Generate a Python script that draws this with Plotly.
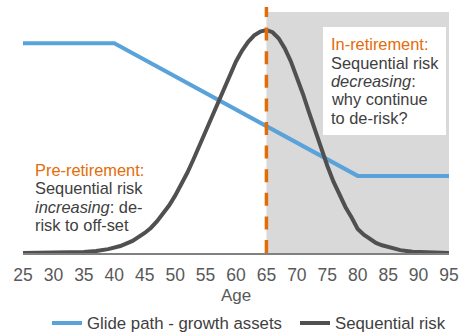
import plotly.graph_objects as go

# Glide path: share of growth assets by age
glide_age = [25, 40, 80, 95]
glide_share = [0.87, 0.87, 0.32, 0.32]

# Sequential risk around the retirement date
risk_age = [25, 30, 35, 37, 39, 41, 43, 45, 46, 47, 48, 49, 50, 51, 52, 53, 54,
            55, 56, 57, 58, 59, 60, 61, 62, 63, 64, 65, 66, 67, 68, 69, 70, 71,
            72, 73, 74, 75, 76, 77, 78, 79, 80, 81, 82, 83, 84, 85, 87, 89, 91,
            93, 95]
risk_level = [0.000, 0.001, 0.004, 0.008, 0.016, 0.029, 0.050, 0.083, 0.104,
              0.131, 0.161, 0.197, 0.238, 0.283, 0.333, 0.388, 0.446, 0.506,
              0.567, 0.629, 0.688, 0.744, 0.795, 0.840, 0.876, 0.903, 0.919,
              0.925, 0.916, 0.891, 0.850, 0.796, 0.732, 0.660, 0.584, 0.508,
              0.433, 0.362, 0.297, 0.240, 0.190, 0.147, 0.100, 0.076, 0.057,
              0.042, 0.032, 0.025, 0.012, 0.005, 0.002, 0.001, 0.000]

x_ticks = list(range(25, 96, 5))
retirement_age = 65

BLUE = "#5AA2DA"
DARK = "#505050"
ORANGE = "#E36C0A"
TEXT = "#404040"
FONT = "Liberation Sans, Arial, sans-serif"

# plot-area geometry in pixels
W_FIG, H_FIG = 470, 336
L, R, T, B = 23, 449, 12, 253
PW, PH = R - L, B - T


def px_x(p):
    return (p - L) / PW


def px_y(p):
    return (B - p) / PH


fig = go.Figure()
fig.add_trace(go.Scatter(x=glide_age, y=glide_share, mode="lines",
                         name="Glide path - growth assets", legend="legend",
                         line=dict(color=BLUE, width=4)))
fig.add_trace(go.Scatter(x=risk_age, y=risk_level, mode="lines",
                         name="Sequential risk", legend="legend2",
                         line=dict(color=DARK, width=4)))

shapes = [
    # retirement phase shading
    dict(type="rect", xref="x", yref="paper", x0=retirement_age, x1=95.2,
         y0=0, y1=1, fillcolor="#D9D9D9", line=dict(width=0), layer="below"),
    # white panel behind in-retirement note
    dict(type="rect", xref="paper", yref="paper", x0=px_x(323), x1=px_x(446),
         y0=px_y(135), y1=px_y(27), fillcolor="white", line=dict(width=0),
         layer="below"),
    # retirement date marker
    dict(type="line", xref="x", yref="paper", x0=retirement_age,
         x1=retirement_age, y0=0, y1=px_y(7),
         line=dict(color=ORANGE, width=3.5, dash="13px,10.6px"), layer="above"),
]

annotations = []


def note(lines, left_px, first_center_px, pitch):
    for i, (txt, col) in enumerate(lines):
        annotations.append(dict(
            text=txt, xref="paper", yref="paper", x=px_x(left_px),
            y=px_y(first_center_px + i * pitch), xanchor="left",
            yanchor="middle", showarrow=False, align="left",
            font=dict(family=FONT, size=16.4, color=col), borderpad=0))


note([("Pre-retirement:", ORANGE),
      ("Sequential risk", TEXT),
      ("<i>increasing</i>: de-", TEXT),
      ("risk to off-set", TEXT)], 34, 169.5, 18.6)

note([("In-retirement:", ORANGE),
      ("Sequential risk", TEXT),
      ("<i>decreasing</i>:", TEXT),
      ("why continue", TEXT),
      ("to de-risk?", TEXT)], 330, 44.5, 18.3)

legend_style = dict(orientation="h", y=px_y(323), xanchor="left",
                    yanchor="middle",
                    font=dict(family=FONT, size=16.8, color=TEXT),
                    bgcolor="rgba(0,0,0,0)")

fig.update_layout(
    width=W_FIG, height=H_FIG,
    margin=dict(l=L, r=W_FIG - R, t=T, b=H_FIG - B, autoexpand=False),
    paper_bgcolor="white", plot_bgcolor="white",
    font=dict(family=FONT, size=16, color="#595959"),
    shapes=shapes, annotations=annotations,
    showlegend=True,
    legend=dict(x=px_x(47), **legend_style),
    legend2=dict(x=px_x(295), **legend_style),
    xaxis=dict(range=[25, 95], tickvals=x_ticks, showgrid=False,
               zeroline=False, showline=True, linecolor="#808080",
               linewidth=1.5, ticks="", tickfont=dict(size=17.5),
               ticklabelstandoff=5, automargin=False,
               title=dict(text="Age", font=dict(size=17), standoff=5)),
    yaxis=dict(range=[0, 1], visible=False, fixedrange=True),
)

fig.write_html("out.html")
